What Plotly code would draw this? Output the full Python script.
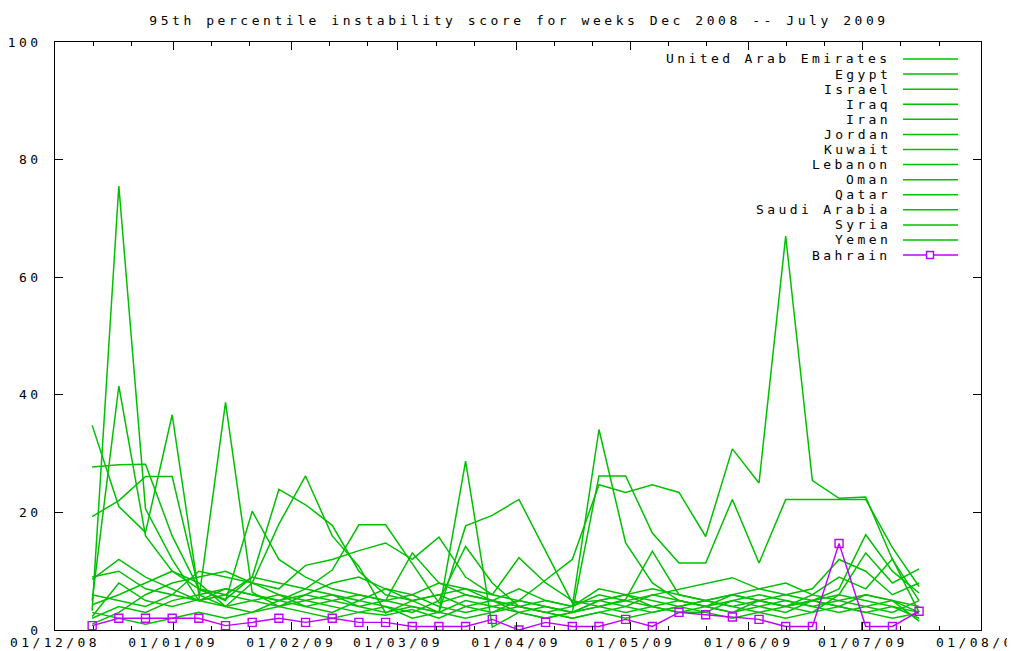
import pandas as pd
import plotly.graph_objects as go

title_text = "95th percentile instability score for weeks Dec 2008 -- July 2009"

countries = ["United Arab Emirates", "Egypt", "Israel", "Iraq", "Iran", "Jordan", "Kuwait",
             "Lebanon", "Oman", "Qatar", "Saudi Arabia", "Syria", "Yemen", "Bahrain"]

start_date = "2008-12-10 18:00"
n_weeks = 32

uae     = [3.3, 75.5, 20.6, 12.0, 5.0, 4.0, 8.0, 6.0, 5.0, 4.0, 3.0, 2.5, 3.5, 2.0, 4.0, 5.0, 3.0, 2.0, 3.0, 4.0, 3.0, 4.0, 3.0, 3.0, 5.0, 4.0, 3.0, 5.0, 4.0, 3.0, 4.0, 3.0]
egypt   = [8.6, 12.0, 9.0, 7.0, 5.0, 6.0, 9.0, 8.0, 7.0, 6.0, 5.0, 7.0, 5.0, 6.0, 4.0, 3.0, 5.0, 8.5, 12.0, 24.7, 23.4, 24.7, 23.4, 15.9, 30.8, 25.0, 67.0, 25.4, 22.4, 22.6, 12.0, 5.0]
israel  = [27.7, 28.1, 28.2, 16.0, 7.0, 6.0, 5.0, 4.0, 6.0, 5.0, 4.0, 5.0, 6.0, 4.0, 3.0, 4.0, 5.0, 4.0, 3.0, 26.2, 26.2, 16.5, 11.4, 11.4, 22.2, 11.4, 22.2, 22.2, 22.2, 22.2, 14.0, 7.4]
iraq    = [5.0, 41.5, 16.0, 10.0, 8.0, 4.0, 3.0, 5.0, 4.0, 3.0, 5.0, 4.0, 3.0, 5.0, 14.2, 8.0, 4.0, 3.0, 4.0, 34.1, 14.8, 8.0, 5.0, 4.0, 6.0, 5.0, 4.0, 3.0, 6.0, 5.0, 4.0, 2.0]
iran    = [34.8, 21.0, 16.6, 36.6, 6.0, 7.0, 6.0, 5.0, 7.0, 10.2, 17.9, 17.9, 11.3, 4.6, 6.0, 5.0, 4.0, 5.0, 4.0, 6.0, 5.0, 4.0, 3.0, 4.0, 5.0, 6.0, 5.0, 4.0, 5.0, 6.0, 5.0, 4.0]
jordan  = [19.3, 22.0, 26.1, 26.1, 6.9, 5.2, 9.0, 23.9, 21.3, 17.8, 10.0, 6.0, 5.0, 3.0, 28.7, 0.5, 3.0, 4.0, 3.0, 5.0, 4.0, 6.0, 5.0, 4.0, 3.0, 5.0, 4.0, 6.0, 5.0, 4.0, 3.0, 5.0]
kuwait  = [2.3, 8.0, 5.0, 4.0, 5.2, 38.7, 6.4, 4.0, 5.0, 6.0, 4.0, 3.0, 4.0, 3.0, 17.7, 19.5, 22.2, 13.4, 4.6, 5.0, 6.0, 4.0, 5.0, 4.0, 3.0, 4.0, 5.0, 4.0, 3.0, 4.0, 5.0, 3.0]
lebanon = [4.3, 6.0, 8.0, 10.0, 7.0, 5.0, 20.2, 12.0, 9.0, 7.0, 6.0, 5.0, 4.0, 3.0, 5.0, 4.0, 3.0, 2.0, 3.0, 4.0, 5.0, 6.0, 7.0, 8.0, 8.9, 7.0, 6.0, 5.0, 7.0, 16.2, 10.0, 6.3]
oman    = [1.0, 3.0, 6.0, 8.0, 9.0, 10.0, 8.0, 18.0, 26.2, 16.0, 10.8, 2.9, 5.0, 6.0, 7.0, 5.0, 4.0, 3.0, 2.0, 3.0, 4.0, 3.0, 4.0, 5.0, 4.0, 3.0, 4.0, 5.0, 6.0, 13.1, 8.0, 10.4]
qatar   = [6.0, 5.0, 4.0, 6.0, 10.0, 9.0, 8.0, 7.0, 11.0, 12.0, 13.5, 14.8, 12.0, 15.8, 9.0, 6.0, 12.3, 8.0, 5.0, 4.0, 5.2, 13.4, 6.0, 5.0, 4.0, 5.0, 6.0, 7.0, 12.0, 10.0, 6.0, 8.0]
saudi   = [2.0, 4.0, 3.0, 5.0, 6.0, 4.0, 5.0, 6.0, 4.0, 5.0, 6.0, 5.0, 13.1, 8.0, 6.0, 5.0, 7.0, 5.0, 4.0, 7.0, 6.0, 5.0, 4.0, 5.0, 6.0, 7.0, 8.0, 6.0, 9.0, 7.0, 12.1, 3.0]
syria   = [9.0, 10.0, 7.0, 6.0, 5.0, 7.0, 6.0, 5.0, 6.0, 8.0, 9.0, 7.0, 6.0, 8.0, 7.0, 6.0, 5.0, 4.0, 3.0, 5.0, 6.0, 7.0, 6.0, 5.0, 6.0, 5.0, 4.0, 5.0, 4.0, 6.0, 5.0, 1.5]
yemen   = [3.0, 2.0, 1.0, 2.0, 3.0, 2.0, 3.0, 4.0, 3.0, 2.0, 3.0, 4.0, 2.0, 3.0, 2.0, 3.0, 4.0, 3.0, 2.0, 3.0, 2.0, 3.0, 4.0, 3.0, 2.0, 3.0, 2.0, 3.0, 4.0, 3.0, 2.0, 2.9]
bahrain = [0.75, 2.0, 2.0, 2.0, 2.0, 0.75, 1.3, 2.0, 1.3, 2.0, 1.3, 1.3, 0.6, 0.6, 0.6, 1.8, 0.0, 1.3, 0.6, 0.6, 1.8, 0.6, 3.0, 2.6, 2.2, 1.8, 0.6, 0.6, 14.7, 0.6, 0.6, 3.2]

series = [uae, egypt, israel, iraq, iran, jordan, kuwait, lebanon, oman, qatar, saudi, syria, yemen, bahrain]

x_tick_dates = ["2008-12-01", "2009-01-01", "2009-02-01", "2009-03-01", "2009-04-01",
                "2009-05-01", "2009-06-01", "2009-07-01", "2009-08-01"]
x_tick_labels = ["01/12/08", "01/01/09", "01/02/09", "01/03/09", "01/04/09",
                 "01/05/09", "01/06/09", "01/07/09", "01/08/09"]
y_tick_vals = [0, 20, 40, 60, 80, 100]

GREEN = "#00c000"
PURPLE = "#c000ff"
FONT = "DejaVu Sans Mono"


def sp(t, ls=3.4):
    return f'<span style="letter-spacing:{ls}px">{t}</span>'


dates = pd.date_range(start_date, periods=n_weeks, freq="7D")
month_starts = pd.to_datetime(x_tick_dates)
minor_vals = []
for m in month_starts[:-1]:
    minor_vals += [m + pd.Timedelta(days=10), m + pd.Timedelta(days=20)]

fig = go.Figure()
for name, vals in zip(countries, series):
    if name == "Bahrain":
        fig.add_trace(go.Scatter(x=dates, y=vals, mode="lines+markers", name=name,
                                 line=dict(color=PURPLE, width=1.4),
                                 marker=dict(symbol="square-open", size=8, color=PURPLE,
                                             line=dict(width=1.4, color=PURPLE)),
                                 showlegend=False))
    else:
        fig.add_trace(go.Scatter(x=dates, y=vals, mode="lines", name=name,
                                 line=dict(color=GREEN, width=1.5), showlegend=False))

# the page body has an 8px margin; size the figure so the plot box lands where the reference has it
OFF = 8
W, H = 1007, 643
ml, mr, mt, mb = 47, 34, 34, 21
pw, ph = W - ml - mr, H - mt - mb
plot_left = OFF + ml
plot_bottom = OFF + H - mb


def px(xpage):
    return (xpage - plot_left) / pw


def py(ypage):
    return (plot_bottom - ypage) / ph


# gnuplot-style key: right-aligned text with the sample to its right
key_top, key_step = 59, 15.08
for i, name in enumerate(countries):
    yy = py(key_top + i * key_step)
    col = PURPLE if name == "Bahrain" else GREEN
    fig.add_annotation(x=px(893), y=yy, xref="paper", yref="paper", text=sp(name),
                       showarrow=False, xanchor="right", yanchor="middle", align="right",
                       font=dict(family=FONT, size=13, color="black"))
    fig.add_shape(type="line", xref="paper", yref="paper", x0=px(903), x1=px(958),
                  y0=yy, y1=yy, line=dict(color=col, width=1.5))
    if name == "Bahrain":
        fig.add_shape(type="rect", xref="paper", yref="paper",
                      x0=px(926.5), x1=px(933.5), y0=yy - 3.5 / ph, y1=yy + 3.5 / ph,
                      line=dict(color=PURPLE, width=1.4), fillcolor="white")

fig.update_layout(
    width=W, height=H,
    margin=dict(l=ml, r=mr, t=mt, b=mb, autoexpand=False),
    paper_bgcolor="white", plot_bgcolor="white",
    title=dict(text=sp(title_text, 3.55), x=511 / W, xanchor="center",
               y=1 - (20 - OFF) / H, yanchor="middle",
               font=dict(family=FONT, size=13, color="black")),
    font=dict(family=FONT, size=13, color="black"),
    showlegend=False,
    xaxis=dict(type="date", range=["2008-12-01", "2009-08-01"], automargin=False,
               tickmode="array", tickvals=month_starts, ticktext=[sp(t) for t in x_tick_labels],
               ticklabeloverflow="allow",
               ticks="inside", ticklen=8, tickwidth=1, tickcolor="black",
               showline=True, linecolor="black", linewidth=1, mirror="allticks",
               showgrid=False, zeroline=False,
               minor=dict(tickmode="array", tickvals=minor_vals, ticks="inside",
                          ticklen=4, tickcolor="black", showgrid=False),
               tickfont=dict(family=FONT, size=13, color="black")),
    yaxis=dict(range=[0, 100], tickmode="array", tickvals=y_tick_vals, automargin=False,
               ticktext=[sp(str(v)) for v in y_tick_vals],
               ticks="inside", ticklen=8, tickwidth=1, tickcolor="black",
               showline=True, linecolor="black", linewidth=1, mirror="allticks",
               showgrid=False, zeroline=False, ticklabelstandoff=10,
               tickfont=dict(family=FONT, size=13, color="black")),
)

fig.write_html("out.html")
